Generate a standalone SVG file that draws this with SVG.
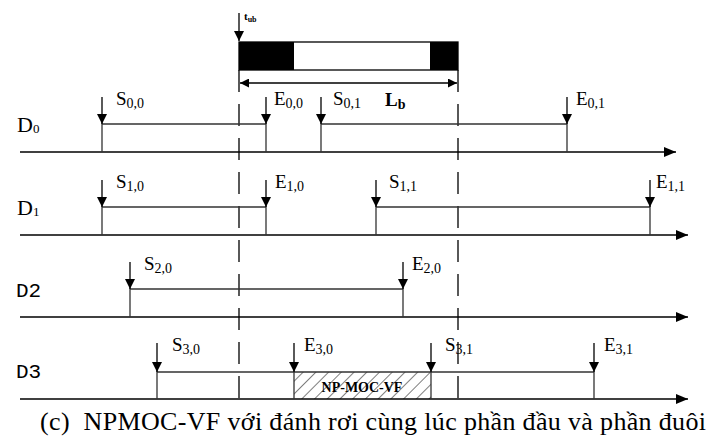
<svg xmlns="http://www.w3.org/2000/svg" width="709" height="436" viewBox="0 0 709 436">
<style>
.ln{stroke:#000;stroke-width:1.3;fill:none}
.bx{stroke:#333;stroke-width:1.3;fill:none}
.dash{stroke:#000;stroke-width:1.3;fill:none;stroke-dasharray:22 12}
.t{font-family:Liberation Serif,serif;font-size:19px;fill:#000}
.s{font-size:14px}
.d{font-family:Liberation Serif,serif;font-size:22px;fill:#000}
.ds{font-size:13px}
.mono{font-family:Liberation Mono,monospace;font-size:21px;fill:#000}
</style>
<defs>
<marker id="ah" viewBox="0 0 10 10" refX="10" refY="5" markerWidth="10" markerHeight="10" markerUnits="userSpaceOnUse" orient="auto">
<path d="M0,0 L10,5 L0,10 z" fill="#000"/>
</marker>
<marker id="ax" viewBox="0 0 12 10" refX="12" refY="5" markerWidth="12" markerHeight="10" markerUnits="userSpaceOnUse" orient="auto">
<path d="M0,0 L12,5 L0,10 z" fill="#000"/>
</marker>
<marker id="ahs" viewBox="0 0 10 10" refX="0" refY="5" markerWidth="9" markerHeight="9" markerUnits="userSpaceOnUse" orient="auto">
<path d="M10,0 L0,5 L10,10 z" fill="#000"/>
</marker>
<marker id="ahe" viewBox="0 0 10 10" refX="10" refY="5" markerWidth="9" markerHeight="9" markerUnits="userSpaceOnUse" orient="auto">
<path d="M0,0 L10,5 L0,10 z" fill="#000"/>
</marker>
<pattern id="hatch" patternUnits="userSpaceOnUse" width="9" height="9" patternTransform="rotate(45)">
<line x1="0" y1="0" x2="0" y2="9" stroke="#000" stroke-width="1"/>
</pattern>
</defs>

<g id="top">
<line class="ln" x1="239" y1="13" x2="239" y2="41" marker-end="url(#ah)"/>
<text x="244" y="20" font-family="Liberation Serif, serif" font-size="11" font-weight="bold">t<tspan font-size="8" dy="2">ub</tspan></text>
<rect x="239" y="42" width="219" height="28" fill="#fff" stroke="#000" stroke-width="1.3"/>
<rect x="239" y="42" width="55" height="28" fill="#000"/>
<rect x="430" y="42" width="28" height="28" fill="#000"/>
<line class="ln" x1="240" y1="83" x2="457" y2="83" marker-start="url(#ahs)" marker-end="url(#ahe)"/>
<text class="t" x="385" y="106" font-family="Liberation Serif, serif" font-weight="bold">L<tspan class="s" dy="3">b</tspan></text>
</g>

<g id="guides">
<line class="dash" x1="239" y1="70" x2="239" y2="404"/>
<line class="dash" x1="458" y1="70" x2="458" y2="404"/>
</g>

<g id="D0" font-family="Liberation Serif, serif">
<text class="d" x="17" y="132">D<tspan class="ds" dy="1">0</tspan></text>
<line class="ln" x1="20" y1="152" x2="676" y2="152" marker-end="url(#ax)"/>
<polyline class="bx" points="102,152 102,124 266,124 266,152"/>
<polyline class="bx" points="321,152 321,124 567,124 567,152"/>
<line class="ln" x1="102" y1="97" x2="102" y2="124" marker-end="url(#ah)"/>
<line class="ln" x1="266" y1="97" x2="266" y2="124" marker-end="url(#ah)"/>
<line class="ln" x1="321" y1="97" x2="321" y2="124" marker-end="url(#ah)"/>
<line class="ln" x1="567" y1="97" x2="567" y2="124" marker-end="url(#ah)"/>
<text class="t" x="116" y="105">S<tspan class="s" dy="3">0,0</tspan></text>
<text class="t" x="274" y="105">E<tspan class="s" dy="3">0,0</tspan></text>
<text class="t" x="333" y="105">S<tspan class="s" dy="3">0,1</tspan></text>
<text class="t" x="576" y="105">E<tspan class="s" dy="3">0,1</tspan></text>
</g>

<g id="D1" font-family="Liberation Serif, serif">
<text class="d" x="17" y="215">D<tspan class="ds" dy="1">1</tspan></text>
<line class="ln" x1="20" y1="235" x2="688" y2="235" marker-end="url(#ax)"/>
<polyline class="bx" points="102,235 102,207 266,207 266,235"/>
<polyline class="bx" points="376,235 376,207 650,207 650,235"/>
<line class="ln" x1="102" y1="180" x2="102" y2="207" marker-end="url(#ah)"/>
<line class="ln" x1="266" y1="180" x2="266" y2="207" marker-end="url(#ah)"/>
<line class="ln" x1="376" y1="180" x2="376" y2="207" marker-end="url(#ah)"/>
<line class="ln" x1="650" y1="180" x2="650" y2="207" marker-end="url(#ah)"/>
<text class="t" x="116" y="188">S<tspan class="s" dy="3">1,0</tspan></text>
<text class="t" x="275" y="188">E<tspan class="s" dy="3">1,0</tspan></text>
<text class="t" x="389" y="188">S<tspan class="s" dy="3">1,1</tspan></text>
<text class="t" x="656" y="188">E<tspan class="s" dy="3">1,1</tspan></text>
</g>

<g id="D2" font-family="Liberation Serif, serif">
<text class="mono" x="16" y="297" font-family="Liberation Mono, monospace">D2</text>
<line class="ln" x1="20" y1="317" x2="688" y2="317" marker-end="url(#ax)"/>
<polyline class="bx" points="130,317 130,289 403,289 403,317"/>
<line class="ln" x1="130" y1="262" x2="130" y2="289" marker-end="url(#ah)"/>
<line class="ln" x1="403" y1="262" x2="403" y2="289" marker-end="url(#ah)"/>
<text class="t" x="144" y="270">S<tspan class="s" dy="3">2,0</tspan></text>
<text class="t" x="412" y="270">E<tspan class="s" dy="3">2,0</tspan></text>
</g>

<g id="D3" font-family="Liberation Serif, serif">
<text class="mono" x="16" y="378" font-family="Liberation Mono, monospace">D3</text>
<line class="ln" x1="20" y1="399" x2="688" y2="399" marker-end="url(#ax)"/>
<rect x="294" y="372" width="137" height="27" fill="url(#hatch)"/>
<polyline class="bx" points="157,399 157,372 594,372 594,399"/>
<line class="bx" x1="294" y1="372" x2="294" y2="399"/>
<line class="bx" x1="431" y1="372" x2="431" y2="399"/>
<text x="362" y="392" text-anchor="middle" font-family="Liberation Serif, serif" font-size="14" font-weight="bold">NP-MOC-VF</text>
<line class="ln" x1="157" y1="343" x2="157" y2="372" marker-end="url(#ah)"/>
<line class="ln" x1="294" y1="343" x2="294" y2="372" marker-end="url(#ah)"/>
<line class="ln" x1="431" y1="343" x2="431" y2="372" marker-end="url(#ah)"/>
<line class="ln" x1="594" y1="343" x2="594" y2="372" marker-end="url(#ah)"/>
<text class="t" x="172" y="351">S<tspan class="s" dy="3">3,0</tspan></text>
<text class="t" x="304" y="351">E<tspan class="s" dy="3">3,0</tspan></text>
<text class="t" x="445" y="351">S<tspan class="s" dy="3">3,1</tspan></text>
<text class="t" x="604" y="351">E<tspan class="s" dy="3">3,1</tspan></text>
</g>

<text x="40" y="430" font-family="Liberation Serif, serif" font-size="26" xml:space="preserve" textLength="666" lengthAdjust="spacing">(c)  NPMOC-VF với đánh rơi cùng lúc phần đầu và phần đuôi</text>
</svg>
